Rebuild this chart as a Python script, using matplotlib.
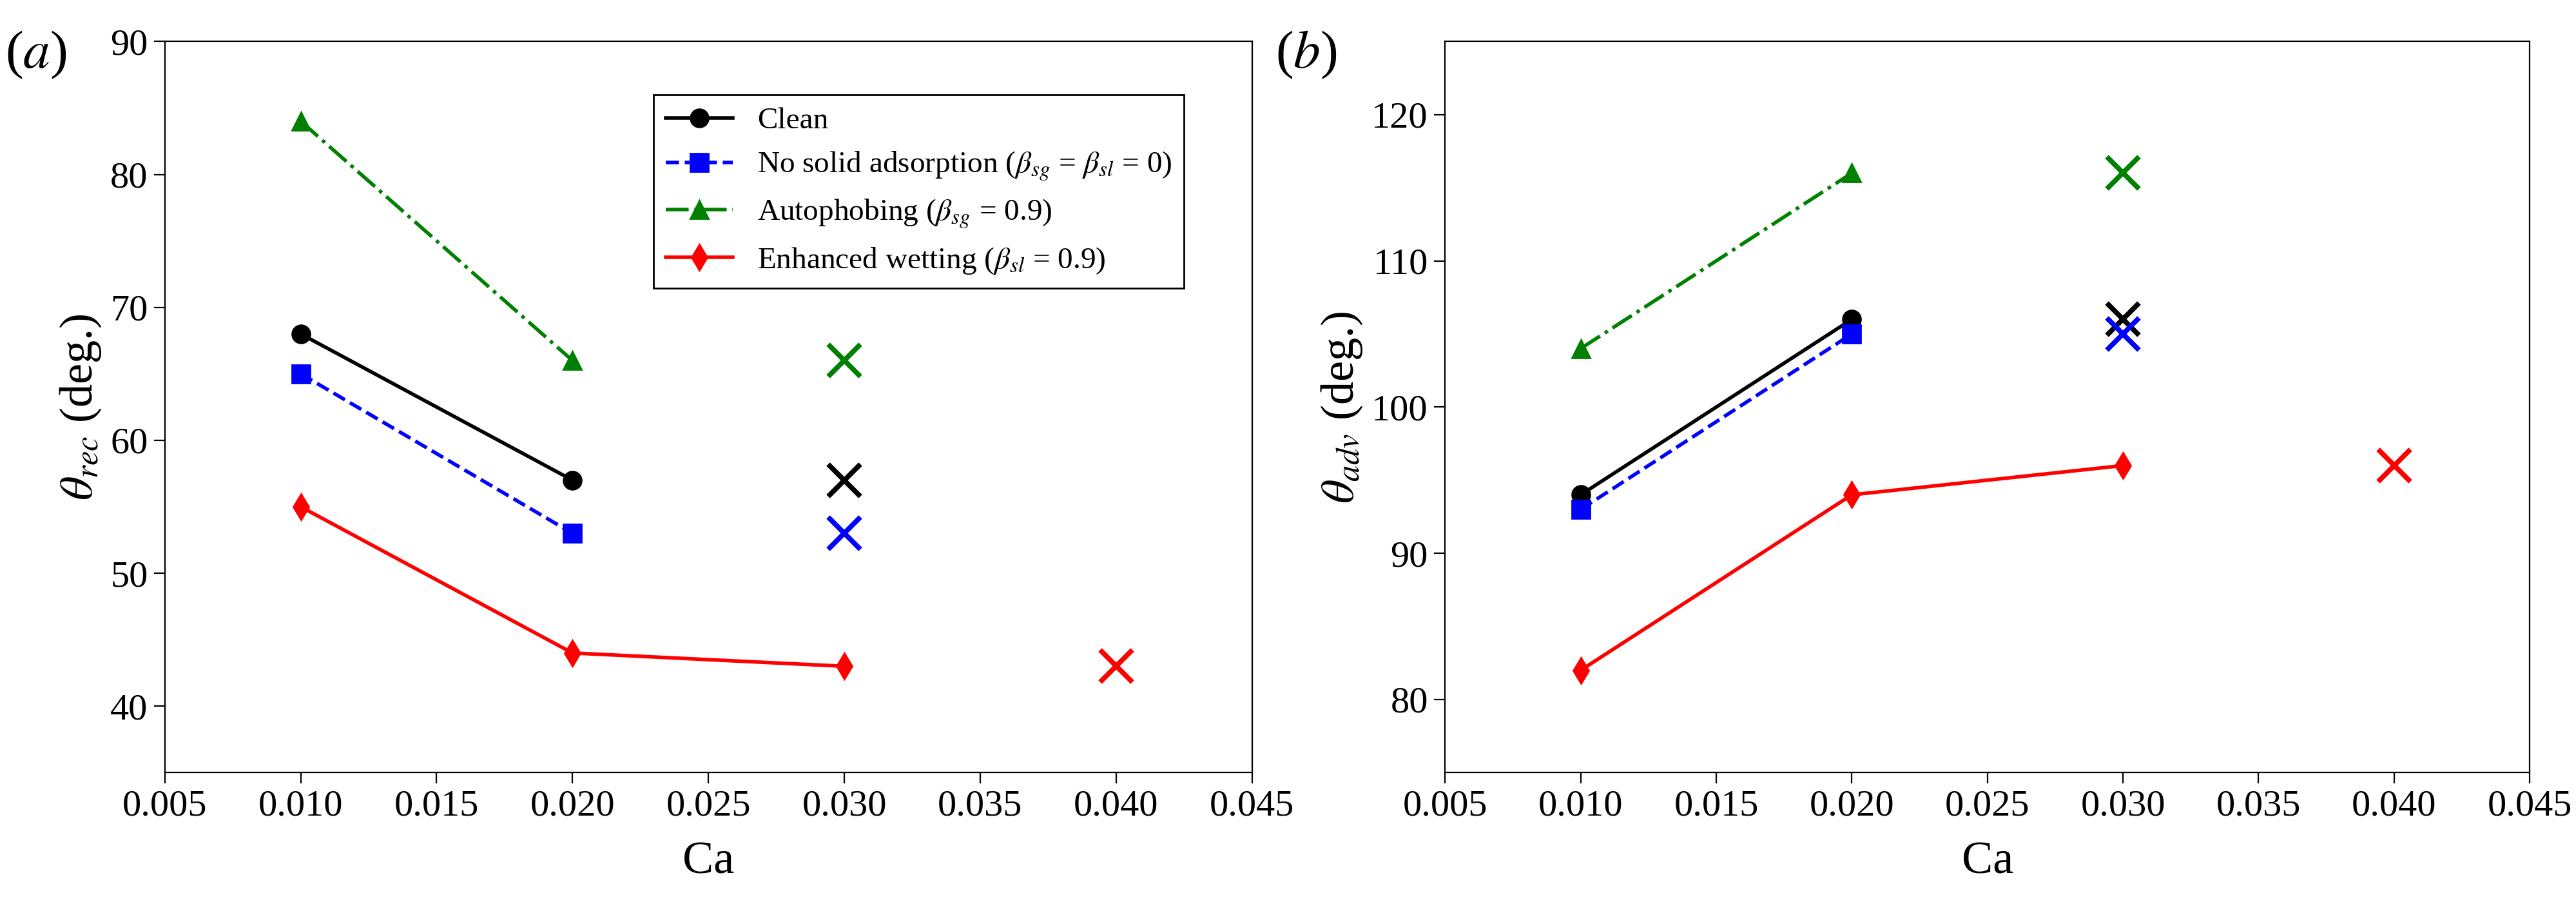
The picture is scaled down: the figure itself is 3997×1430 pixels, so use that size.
import matplotlib
matplotlib.use('Agg')
import matplotlib.pyplot as plt

plt.rcParams['font.family'] = ['Liberation Serif', 'DejaVu Serif']
plt.rcParams['mathtext.fontset'] = 'stix'

ca = [0.010, 0.020, 0.030]
ca_cross = [0.030, 0.040]

# receding angles
rec_clean = [68, 57]
rec_nosolid = [65, 53]
rec_auto = [84, 66]
rec_wet = [55, 44, 43]
rec_cross = {'k': 57, 'b': 53, 'g': 66, 'r': 43}

# advancing angles
adv_clean = [94, 106]
adv_nosolid = [93, 105]
adv_auto = [104, 116]
adv_wet = [82, 94, 96]
adv_cross = {'k': 106, 'b': 105, 'g': 116, 'r': 96}

fig = plt.figure(figsize=(19.985, 7.15), dpi=200)
ax1 = fig.add_axes([0.064, 0.162, 0.422, 0.793])
ax2 = fig.add_axes([0.561, 0.162, 0.421, 0.793])

def draw(ax, clean, nosolid, auto, wet, cross):
    ax.plot(ca[:2], clean, 'k-o', lw=2, ms=10, label='Clean')
    ax.plot(ca[:2], nosolid, 'b--s', lw=2, ms=10,
            label=r'No solid adsorption ($\beta_{sg}$ = $\beta_{sl}$ = 0)')
    ax.plot(ca[:2], auto, 'g-.^', lw=2, ms=10, label=r'Autophobing ($\beta_{sg}$ = 0.9)')
    ax.plot(ca, wet, 'r-d', lw=2, ms=10, label=r'Enhanced wetting ($\beta_{sl}$ = 0.9)')
    for c in ['k', 'b', 'g']:
        ax.plot(ca_cross[0], cross[c], 'x', color=c, ms=18, mew=2.8)
    ax.plot(ca_cross[1], cross['r'], 'x', color='r', ms=18, mew=2.8)
    ax.set_xlim(0.005, 0.045)
    ax.set_xticks([0.005, 0.010, 0.015, 0.020, 0.025, 0.030, 0.035, 0.040, 0.045])
    ax.set_xticklabels(['%.3f' % v for v in ax.get_xticks()])
    ax.tick_params(labelsize=21, length=6)
    ax.set_xlabel('Ca', fontsize=26, labelpad=10)

draw(ax1, rec_clean, rec_nosolid, rec_auto, rec_wet, rec_cross)
ax1.set_ylim(35, 90)
ax1.set_yticks([40, 50, 60, 70, 80, 90])
ax1.set_ylabel(r'$\theta_{rec}$ (deg.)', fontsize=26)
ax1.legend(loc='upper right', fontsize=17, framealpha=1, edgecolor='black',
           fancybox=False, handlelength=2.2, borderaxespad=0.8,
           bbox_to_anchor=(0.96, 0.96))
fig.text(0.002, 0.94, r'($a$)', fontsize=30, va='center')

draw(ax2, adv_clean, adv_nosolid, adv_auto, adv_wet, adv_cross)
ax2.set_ylim(75, 125)
ax2.set_yticks([80, 90, 100, 110, 120])
ax2.set_ylabel(r'$\theta_{adv}$ (deg.)', fontsize=26)
fig.text(0.495, 0.94, r'($b$)', fontsize=30, va='center')

fig.savefig('out.png', dpi=200)
